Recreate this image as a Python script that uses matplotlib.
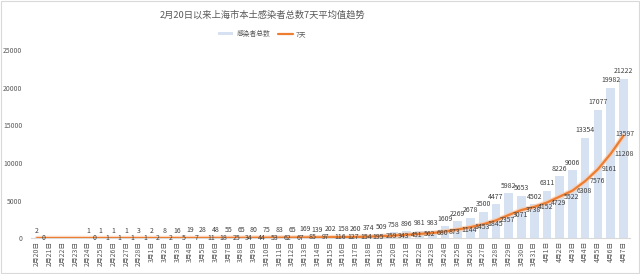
import matplotlib
matplotlib.use("Agg")
import matplotlib.pyplot as plt
import numpy as np
from matplotlib.patches import Rectangle

plt.rcParams['font.family'] = ['Noto Sans CJK SC', 'DejaVu Sans']

dates = ['2月20日', '2月21日', '2月22日', '2月23日', '2月24日', '2月25日', '2月26日',
         '2月27日', '2月28日', '3月1日', '3月2日', '3月3日', '3月4日', '3月5日',
         '3月6日', '3月7日', '3月8日', '3月9日', '3月10日', '3月11日', '3月12日',
         '3月13日', '3月14日', '3月15日', '3月16日', '3月17日', '3月18日', '3月19日',
         '3月20日', '3月21日', '3月22日', '3月23日', '3月24日', '3月25日', '3月26日',
         '3月27日', '3月28日', '3月29日', '3月30日', '3月31日', '4月1日', '4月2日',
         '4月3日', '4月4日', '4月5日', '4月6日', '4月7日']

total = [2, None, None, None, 1, 1, 1, 1, 3,
         2, 8, 16, 19, 28, 48, 55, 65, 80, 75, 83, 65, 169, 139, 202, 158, 260,
         374, 509, 758, 896, 981, 983, 1609, 2269, 2678, 3500, 4477, 5982, 5653, 4502,
         6311, 8226, 9006, 13354, 17077, 19982, 21222]

avg7 = [0, None, None, None, 0, 1, 1, 1, 1,
        2, 2, 5, 7, 11, 18, 25, 34, 44, 53, 62, 67, 85, 97, 116, 127, 154,
        195, 259, 343, 451, 562, 680, 873, 1144, 1453, 1845, 2357, 3071, 3738, 4152,
        4729, 5522, 6308, 7576, 9161, 11208, 13597]

grey = '#595959'
bar_c = '#D6E2F2'
line_c = '#ED7D31'

fig = plt.figure(figsize=(6.4, 2.74), dpi=100)
ax = fig.add_axes([0.048, 0.131, 0.936, 0.686])

x = np.arange(len(dates))
tot = np.array([np.nan if v is None else v for v in total], dtype=float)
avg = np.array([np.nan if v is None else v for v in avg7], dtype=float)

bars = ax.bar(x, np.nan_to_num(tot), width=0.68, color=bar_c, zorder=1, label='感染者总数')

ok = ~np.isnan(avg)
ax.plot(x[ok], avg[ok], color='#F8CBAD', lw=3.4, alpha=0.7, zorder=2,
        solid_capstyle='round')
line, = ax.plot(x[ok], avg[ok], color=line_c, lw=1.6, zorder=3, label='7天',
                solid_capstyle='round')

n = len(x)
for i in range(n):
    if not np.isnan(tot[i]):
        ax.annotate(f'{int(tot[i])}', (x[i], tot[i]), xytext=(0, 2.5),
                    textcoords='offset points', ha='center', va='bottom',
                    fontsize=5.0, color='#404040', zorder=5)
    if not np.isnan(avg[i]):
        if i == n - 1:
            # last label is kept inside the frame
            ax.annotate(f'{int(avg[i])}', (x[i], avg[i]), xytext=(-6, 1),
                        textcoords='offset points', ha='left', va='center',
                        fontsize=5.0, color='#404040', zorder=5)
        else:
            ax.annotate(f'{int(avg[i])}', (x[i], avg[i]), xytext=(3, 0),
                        textcoords='offset points', ha='left', va='center',
                        fontsize=5.0, color='#404040', zorder=5)

ax.set_xlim(-0.5, n - 0.5)
ax.set_ylim(0, 25000)
ax.set_yticks(range(0, 25001, 5000))
ax.set_xticks(x)
ax.set_xticklabels(dates, rotation=90, fontsize=4.9, color=grey)
ax.tick_params(axis='y', length=0, labelsize=4.9, labelcolor=grey, pad=6)
ax.tick_params(axis='x', length=0, pad=2)

for s in ['top', 'right', 'left']:
    ax.spines[s].set_visible(False)
ax.spines['bottom'].set_color('#D9D9D9')
ax.spines['bottom'].set_linewidth(0.8)

fig.text(0.41, 0.945, '2月20日以来上海市本土感染者总数7天平均值趋势',
         ha='center', va='center', fontsize=6.7, color=grey)

fig.legend([bars, line], ['感染者总数', '7天'], loc='center',
           bbox_to_anchor=(0.41, 0.876), ncol=2, frameon=False,
           fontsize=4.9, labelcolor=grey, handlelength=2.2, handleheight=0.5,
           columnspacing=1.2, handletextpad=0.4)

fig.patches.append(Rectangle((0.001, 0.002), 0.997, 0.995, transform=fig.transFigure,
                             fill=False, edgecolor='#D9D9D9', lw=0.8))

fig.savefig('out.png', dpi=100)
